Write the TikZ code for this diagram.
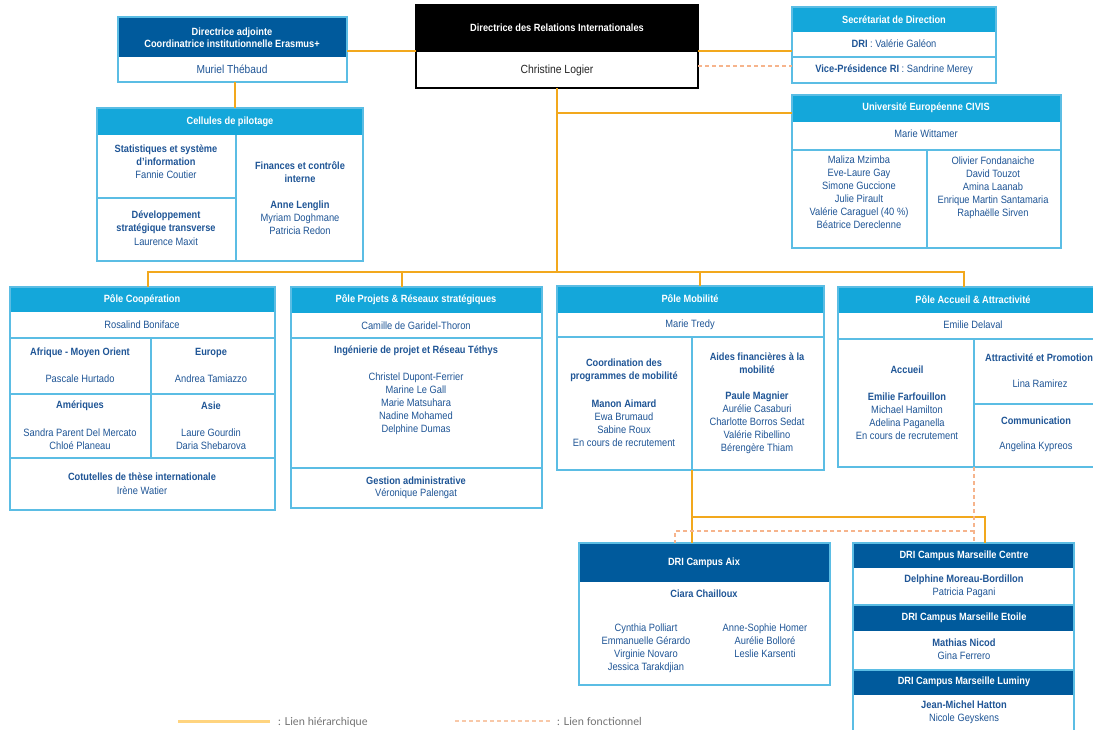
\documentclass[tikz,border=0pt]{standalone}
\usepackage{fontspec}
\setmainfont{Liberation Sans}[FakeStretch=0.88]
\newfontfamily\legendfont{Lato}
\usetikzlibrary{fit}
\definecolor{dblue}{HTML}{005A9C}
\definecolor{lblue}{HTML}{14A7DA}
\definecolor{bord}{HTML}{5BBDE4}
\definecolor{txt}{HTML}{1F5596}
\definecolor{orng}{HTML}{F2A81D}
\definecolor{dorng}{HTML}{F6B48C}
\definecolor{legsolid}{HTML}{FFD47F}
\definecolor{legdash}{HTML}{F8C8A8}
\newcommand\bx[6]{\node[fit={(#2,#3) (#4,#5)}, inner sep=0pt, outer sep=0pt, #6] (#1) {};}
\begin{document}
\begin{tikzpicture}[x=1pt,y=-1pt,
  frame/.style={draw=bord, line width=1.3pt},
  lhead/.style={fill=lblue},
  dhead/.style={fill=dblue},
  divider/.style={draw=bord, line width=1.3pt},
  hier/.style={draw=orng, line width=2pt},
  func/.style={draw=dorng, line width=1.2pt, dash pattern=on 4pt off 3pt},
  ht/.style={text=white, font=\bfseries\fontsize{10.5}{12.5}\selectfont, align=center, inner sep=0pt},
  nt/.style={text=txt, font=\fontsize{10.6}{13}\selectfont, align=center, inner sep=0pt},
  bt/.style={text=txt, font=\bfseries\fontsize{10.5}{13}\selectfont, align=center, inner sep=0pt},
  legt/.style={text=black!55, font=\legendfont\fontsize{11}{13}\selectfont, inner sep=0pt}
]
\clip (0,0) rectangle (1093,729);
\fill[white] (0,0) rectangle (1093,729);

% helper coordinates
\coordinate (y51) at (0,51);
\coordinate (y66) at (0,66);
\coordinate (y113) at (0,113);
\coordinate (y517) at (0,517);
\coordinate (y531) at (0,531);
\coordinate (x148) at (148,0);
\coordinate (x235) at (235,0);
\coordinate (x402) at (402,0);
\coordinate (x675) at (675,0);
\coordinate (x692) at (692,0);
\coordinate (x700) at (700,0);
\coordinate (x964) at (964,0);
\coordinate (x974) at (974,0);
\coordinate (x985) at (985,0);

% ---------- Directrice des RI ----------
\bx{drih}{416}{5}{698}{52}{fill=black}
\bx{dri}{416}{5}{698}{88}{draw=black, line width=1.3pt}
\node[ht] (drit) at (557,28) {Directrice des Relations Internationales};
\node[text=black!85, font=\fontsize{11.8}{13}\selectfont, inner sep=0pt] (drin) at (557,70) {Christine Logier};

% ---------- Directrice adjointe ----------
\bx{mah}{118}{17}{347}{57}{dhead}
\bx{ma}{118}{17}{347}{82}{frame}
\node[ht] (mat) at (232,37.5) {Directrice adjointe\\Coordinatrice institutionnelle Erasmus+};
\node[nt, font=\fontsize{11.6}{13}\selectfont] (man) at (232,69) {Muriel Thébaud};

% ---------- Secretariat ----------
\bx{sech}{792}{7}{996}{32}{lhead}
\bx{sec}{792}{7}{996}{83}{frame}
\draw[divider] (792,57) -- (996,57);
\node[ht] (sect) at (894,19.5) {Secrétariat de Direction};
\node[nt] (sec1) at (894,44) {\textbf{DRI} : Valérie Galéon};
\node[nt] (sec2) at (894,70) {\textbf{Vice-Présidence RI} : Sandrine Merey};

% ---------- Cellules de pilotage ----------
\bx{celh}{97}{108}{363}{135}{lhead}
\bx{cel}{97}{108}{363}{261}{frame}
\draw[divider] (236,135) -- (236,261);
\draw[divider] (97,198) -- (236,198);
\node[ht] (celt) at (230,122) {Cellules de pilotage};
\node[bt] (cel1) at (166,155.5) {Statistiques et système\\d'information};
\node[nt] (cel1n) at (166,175) {Fannie Coutier};
\node[bt] (cel2) at (166,222.5) {Développement\\stratégique transverse};
\node[nt] (cel2n) at (166,242) {Laurence Maxit};
\node[bt] (cel3) at (300,172) {Finances et contrôle\\interne};
\node[nt] (cel3n) at (300,218) {\textbf{Anne Lenglin}\\Myriam Doghmane\\Patricia Redon};

% ---------- CIVIS ----------
\bx{civh}{792}{95}{1061}{122}{lhead}
\bx{civ}{792}{95}{1061}{248}{frame}
\draw[divider] (792,150) -- (1061,150);
\draw[divider] (927,150) -- (927,248);
\node[ht] (civt) at (926,108) {Université Européenne CIVIS};
\node[nt] (civn) at (926,134) {Marie Wittamer};
\node[nt] (civl) at (859,192.5) {Maliza Mzimba\\Eve-Laure Gay\\Simone Guccione\\Julie Pirault\\Valérie Caraguel (40 \%)\\Béatrice Dereclenne};
\node[nt] (civr) at (993,188) {Olivier Fondanaiche\\David Touzot\\Amina Laanab\\Enrique Martin Santamaria\\Raphaëlle Sirven};

% ---------- Pole Cooperation ----------
\bx{cooph}{10}{287}{275}{312}{lhead}
\bx{coop}{10}{287}{275}{510}{frame}
\draw[divider] (10,338) -- (275,338);
\draw[divider] (10,394) -- (275,394);
\draw[divider] (10,458) -- (275,458);
\draw[divider] (151,338) -- (151,458);
\node[ht] (coopt) at (142,300) {Pôle Coopération};
\node[nt] (coopn) at (142,325) {Rosalind Boniface};
\node[bt] (c1) at (80,353) {Afrique - Moyen Orient};
\node[nt] (c1n) at (80,379) {Pascale Hurtado};
\node[bt] (c2) at (211,353) {Europe};
\node[nt] (c2n) at (211,379) {Andrea Tamiazzo};
\node[bt] (c3) at (80,406) {Amériques};
\node[nt] (c3n) at (80,439) {Sandra Parent Del Mercato\\Chloé Planeau};
\node[bt] (c4) at (211,406) {Asie};
\node[nt] (c4n) at (211,439) {Laure Gourdin\\Daria Shebarova};
\node[bt] (c5) at (142,477) {Cotutelles de thèse internationale};
\node[nt] (c5n) at (142,491) {Irène Watier};

% ---------- Pole Projets ----------
\bx{projh}{291}{287}{542}{313}{lhead}
\bx{proj}{291}{287}{542}{508}{frame}
\draw[divider] (291,338) -- (542,338);
\draw[divider] (291,468) -- (542,468);
\node[ht] (projt) at (416,300) {Pôle Projets \& Réseaux stratégiques};
\node[nt] (projn) at (416,326) {Camille de Garidel-Thoron};
\node[bt] (p1) at (416,351) {Ingénierie de projet et Réseau Téthys};
\node[nt] (p1n) at (416,403.5) {Christel Dupont-Ferrier\\Marine Le Gall\\Marie Matsuhara\\Nadine Mohamed\\Delphine Dumas};
\node[bt] (p2) at (416,481) {Gestion administrative};
\node[nt] (p2n) at (416,494) {Véronique Palengat};

% ---------- Pole Mobilite ----------
\bx{mobh}{557}{286}{824}{313}{lhead}
\bx{mob}{557}{286}{824}{470}{frame}
\draw[divider] (557,337) -- (824,337);
\draw[divider] (692,337) -- (692,470);
\node[ht] (mobt) at (690,299) {Pôle Mobilité};
\node[nt] (mobn) at (690,325) {Marie Tredy};
\node[bt] (m1) at (624,370) {Coordination des\\programmes de mobilité};
\node[nt] (m1n) at (624,423) {\textbf{Manon Aimard}\\Ewa Brumaud\\Sabine Roux\\En cours de recrutement};
\node[bt] (m2) at (757,363.5) {Aides financières à la\\mobilité};
\node[nt] (m2n) at (757,423) {\textbf{Paule Magnier}\\Aurélie Casaburi\\Charlotte Borros Sedat\\Valérie Ribellino\\Bérengère Thiam};

% ---------- Pole Accueil ----------
\bx{acch}{838}{287}{1110}{313}{lhead}
\bx{acc}{838}{287}{1110}{467}{frame}
\draw[divider] (838,339) -- (1110,339);
\draw[divider] (974,339) -- (974,467);
\draw[divider] (974,404) -- (1110,404);
\node[ht] (acct) at (973,300) {Pôle Accueil \& Attractivité};
\node[nt] (accn) at (973,325) {Emilie Delaval};
\node[bt] (a1) at (907,370) {Accueil};
\node[nt] (a1n) at (907,416) {\textbf{Emilie Farfouillon}\\Michael Hamilton\\Adelina Paganella\\En cours de recrutement};
\node[bt, anchor=west] (a2) at (985,358) {Attractivité et Promotion};
\node[nt] (a2n) at (1040,384) {Lina Ramirez};
\node[bt] (a3) at (1036,421) {Communication};
\node[nt] (a3n) at (1036,447) {Angelina Kypreos};

% ---------- DRI Campus Aix ----------
\bx{aixh}{579}{543}{830}{582}{dhead}
\bx{aix}{579}{543}{830}{685}{frame}
\node[ht] (aixt) at (704,563) {DRI Campus Aix};
\node[bt] (aixn) at (704,594) {Ciara Chailloux};
\node[nt] (aixl) at (646,648.5) {Cynthia Polliart\\Emmanuelle Gérardo\\Virginie Novaro\\Jessica Tarakdjian};
\node[nt] (aixr) at (765,640.5) {Anne-Sophie Homer\\Aurélie Bolloré\\Leslie Karsenti};

% ---------- DRI Campus Marseille ----------
\bx{mch}{853}{543}{1074}{568}{dhead}
\bx{meh}{853}{605}{1074}{631}{dhead}
\bx{mlh}{853}{670}{1074}{695}{dhead}
\bx{mc}{853}{543}{1074}{745}{frame}
\draw[divider] (853,605) -- (1074,605);
\draw[divider] (853,670) -- (1074,670);
\node[ht] (mct) at (964,556) {DRI Campus Marseille Centre};
\node[nt] (mcn) at (964,586.5) {\textbf{Delphine Moreau-Bordillon}\\Patricia Pagani};
\node[ht] (met) at (964,618) {DRI Campus Marseille Etoile};
\node[nt] (men) at (964,649.5) {\textbf{Mathias Nicod}\\Gina Ferrero};
\node[ht] (mlt) at (964,682) {DRI Campus Marseille Luminy};
\node[nt] (mln) at (964,712.5) {\textbf{Jean-Michel Hatton}\\Nicole Geyskens};

% ---------- connectors ----------
\coordinate (bus) at (557,272);
\draw[hier] (ma.east |- y51) -- (dri.west |- y51);
\draw[hier] (ma.south -| x235) -- (cel.north -| x235);
\draw[hier] (dri.east |- y51) -- (sec.west |- y51);
\draw[func] (dri.east |- y66) -- (sec.west |- y66);
\draw[hier] (dri.south) -- (bus);
\draw[hier] (dri.south |- y113) -- (civ.west |- y113);
\draw[hier] (coop.north -| x148) -- (x148 |- bus) -- (x964 |- bus) -- (acc.north -| x964);
\draw[hier] (x402 |- bus) -- (proj.north -| x402);
\draw[hier] (x700 |- bus) -- (mob.north -| x700);
\draw[hier] (mob.south -| x692) -- (aix.north -| x692);
\draw[hier] (x692 |- y517) -- (x985 |- y517) -- (mc.north -| x985);
\draw[func] (acc.south -| x974) -- (mc.north -| x974);
\draw[func] (x974 |- y531) -- (x675 |- y531) -- (aix.north -| x675);

% ---------- legend ----------
\coordinate (l1a) at (178,721);
\coordinate (l1b) at (270,721);
\coordinate (l2a) at (455,721);
\coordinate (l2b) at (550,721);
\draw[draw=legsolid, line width=3pt] (l1a) -- (l1b);
\draw[draw=legdash, line width=1.3pt, dash pattern=on 4pt off 3pt] (l2a) -- (l2b);
\node[legt, anchor=base west] (leg1) at (278,725) {: Lien hiérarchique};
\node[legt, anchor=base west] (leg2) at (557,725) {: Lien fonctionnel};
\end{tikzpicture}
\end{document}
